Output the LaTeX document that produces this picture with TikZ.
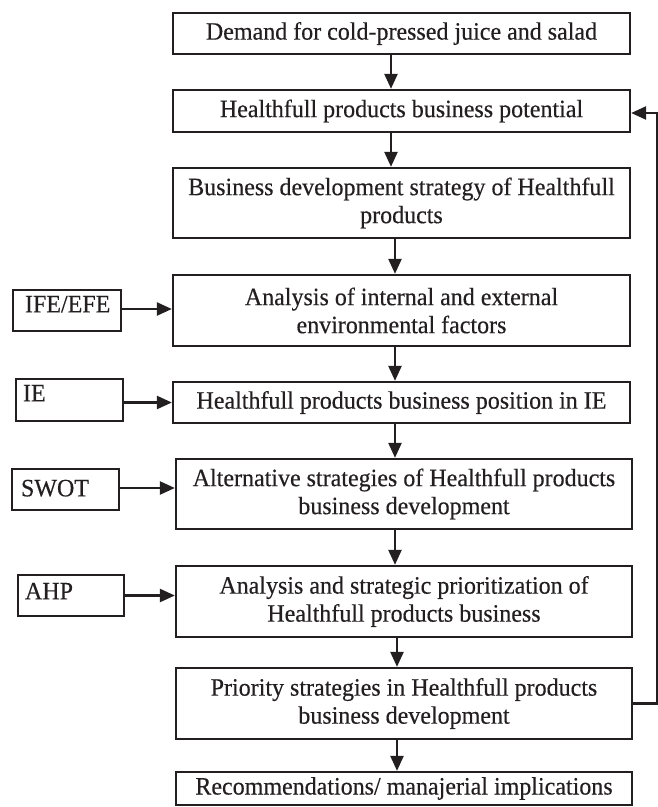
\documentclass[tikz,border=0pt]{standalone}
\usepackage{fontspec}
\setmainfont{Liberation Serif}[FakeStretch=0.96,FakeBold=0.4]
\usetikzlibrary{arrows.meta}
\definecolor{ink}{HTML}{231F20}
\begin{document}
\begin{tikzpicture}[x=1pt,y=-1pt,
  every node/.style={font=\fontsize{25pt}{28pt}\selectfont, text=ink},
  mainbox/.style={draw=ink, line width=2.3pt, minimum width=457pt, inner sep=0pt, align=center},
  sidebox/.style={draw=ink, line width=2.3pt, minimum height=41pt, inner ysep=0pt, align=left, anchor=center},
  arr/.style={draw=ink, line width=2.4pt, -{Triangle[length=15pt,width=13pt]}}]
\useasboundingbox (0,0) rectangle (658,807);
% main column
\node[mainbox, minimum height=41pt] (b1) at (401.5,33.5) {Demand for cold-pressed juice and salad};
\node[mainbox, minimum height=42pt] (b2) at (401.5,111) {Healthfull products business potential};
\node[mainbox, minimum height=70pt] (b3) at (401.5,203) {Business development strategy of Healthfull\\products};
\node[mainbox, minimum height=71pt] (b4) at (401.5,310.5) {Analysis of internal and external\\environmental factors};
\node[mainbox, minimum height=41pt] (b5) at (401.5,402.5) {Healthfull products business position in IE};
\node[mainbox, minimum width=456pt, minimum height=70pt] (b6) at (404,494) {Alternative strategies of Healthfull products\\business development};
\node[mainbox, minimum width=456pt, minimum height=71pt] (b7) at (404,601.5) {Analysis and strategic prioritization of\\Healthfull products business};
\node[mainbox, minimum width=456pt, minimum height=71pt] (b8) at (404,703.5) {Priority strategies in Healthfull products\\business development};
\node[mainbox, minimum width=456pt, minimum height=33pt] (b9) at (404,788.5) {Recommendations/ manajerial implications};
% side boxes
\node[sidebox, minimum width=108pt, text width=84pt, inner xsep=12pt, text height=15pt, text depth=11.4pt] (ife) at (67,310.5) {IFE/EFE};
\node[sidebox, minimum width=107pt, text width=93pt, inner xsep=7pt, text height=15pt, text depth=12.4pt, minimum height=42pt] (ie) at (69.5,400) {IE};
\node[sidebox, minimum width=107pt, text width=89pt, inner xsep=9pt, text height=15pt, text depth=1.4pt] (swot) at (65.5,489.5) {SWOT};
\node[sidebox, minimum width=106pt, text width=92pt, inner xsep=7pt, text height=15pt, text depth=7.4pt] (ahp) at (71,595.5) {AHP};
% vertical connectors
\draw[arr] ([xshift=-10.5pt]b1.south) -- ([xshift=-10.5pt]b2.north);
\draw[arr] ([xshift=-10.5pt]b2.south) -- ([xshift=-10.5pt]b3.north);
\draw[arr] ([xshift=-6.5pt]b3.south) -- ([xshift=-6.5pt]b4.north);
\draw[arr] ([xshift=-6.5pt]b4.south) -- ([xshift=-6.5pt]b5.north);
\draw[arr] ([xshift=-6.5pt]b5.south) -- ([xshift=-9pt]b6.north);
\draw[arr] ([xshift=-9pt]b6.south) -- ([xshift=-9pt]b7.north);
\draw[arr] ([xshift=-7pt]b7.south) -- ([xshift=-7pt]b8.north);
\draw[arr] ([xshift=-7pt]b8.south) -- ([xshift=-7pt]b9.north);
% side connectors
\draw[arr] ([yshift=1.5pt]ife.east) -- ([yshift=1.5pt]ife.east -| b4.west);
\draw[arr] (ie.east |- b5.west) -- (b5.west);
\draw[arr] ([yshift=1.5pt]swot.east) -- ([yshift=1.5pt]swot.east -| b6.west);
\draw[arr] (ahp.east) -- (ahp.east -| b7.west);
% feedback loop
\draw[arr] (b8.east) -- ++(24,0) |- ([yshift=-2pt]b2.east);
\end{tikzpicture}
\end{document}
